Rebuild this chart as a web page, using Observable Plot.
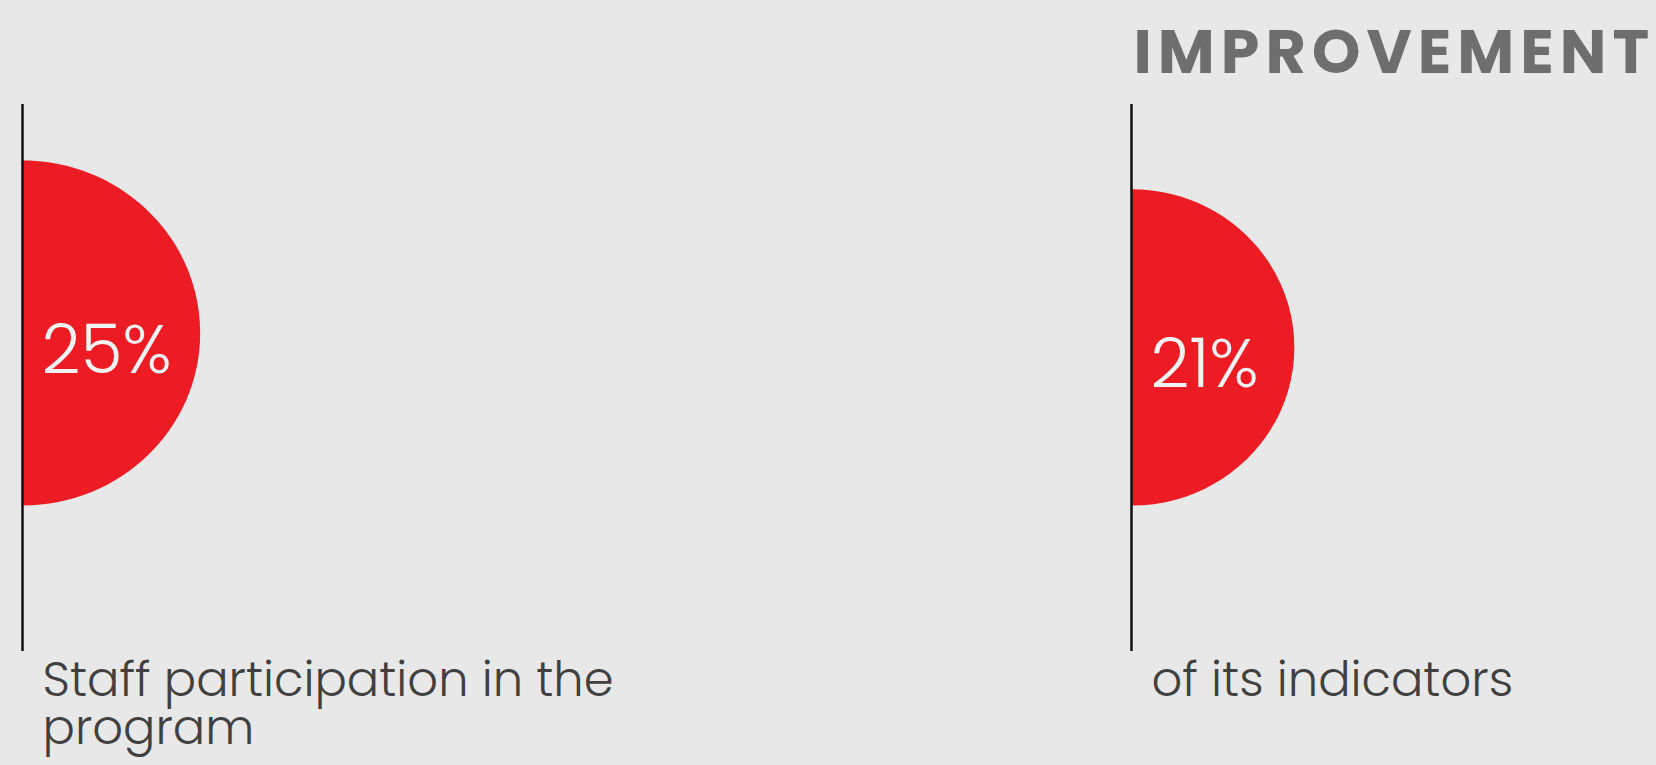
<!DOCTYPE html>
<html><head><meta charset="utf-8">
<script src="https://cdn.jsdelivr.net/npm/d3@7"></script>
<script src="https://cdn.jsdelivr.net/npm/@observablehq/plot@0.6"></script>
<style>
html,body{margin:0;padding:0;background:#e8e8e8;overflow:hidden;}
</style></head><body><div id="chart"></div>
<script>
// ---- data ----
const categories = ["staff", "indicators"];
const values = [25, 21];
const valueLabels = ["25%", "21%"];
const descriptions = ["Staff participation in the\nprogram", "of its indicators"];
const headings = ["", "IMPROVEMENT"];

const data = categories.map((c, i) => ({
  category: c, value: values[i], label: valueLabels[i],
  description: descriptions[i], heading: headings[i]
}));

// half-disc symbol: anchored at its bottom-left point, area follows the r scale
const stretch = 1.03;
const halfDisc = {
  draw(context, size) {
    const r = Math.sqrt(size / Math.PI);
    const rx = r * stretch, k = 0.5522847498;
    context.moveTo(0, 0);
    context.lineTo(0, -2 * r);
    context.bezierCurveTo(k * rx, -2 * r, rx, -r - k * r, rx, -r);
    context.bezierCurveTo(rx, -r + k * r, k * rx, 0, 0, 0);
    context.closePath();
  }
};

const W = 1656, H = 765;
const chart = Plot.plot({
  width: W, height: H,
  marginTop: 104, marginBottom: 114, marginLeft: 0, marginRight: 0,
  style: {background: "#e8e8e8", fontFamily: "Poppins, Inter, sans-serif", overflow: "visible"},
  x: {type: "point", domain: categories, range: [21.5, 1131], padding: 0, axis: null},
  y: {type: "sqrt", domain: [0, 25], range: [505, 332.5], axis: null},
  r: {type: "sqrt", domain: [0, 25], range: [0, 172.5]},
  marks: [
    Plot.dot(data, {x: "category", y: () => 0, r: "value", symbol: halfDisc, fill: "#ed1c24", stroke: null}),
    Plot.ruleX(data, {x: "category", stroke: "#111", strokeWidth: 2.5}),
    Plot.text(data, {x: "category", y: "value", text: "label", dx: 19, dy: 40,
      textAnchor: "start", lineAnchor: "bottom", fill: "#f2f2f2", fontSize: 68, fontWeight: 300}),
    Plot.text(data, {x: "category", text: "description", frameAnchor: "bottom", dx: 20, dy: 10,
      textAnchor: "start", lineAnchor: "top", lineHeight: 1.0, fill: "#404040", fontSize: 48, fontWeight: 300}),
    Plot.text(data.filter(d => d.heading), {x: "category", text: "heading", frameAnchor: "top", dx: 2, dy: -32,
      textAnchor: "start", lineAnchor: "bottom", fill: "#6e6e6e", fontSize: 62, fontWeight: 700})
  ]
});
d3.select(chart).selectAll("text")
  .filter(function() { return this.textContent === "IMPROVEMENT"; })
  .attr("letter-spacing", "6px");
document.getElementById("chart").appendChild(chart);
</script>
</body></html>
